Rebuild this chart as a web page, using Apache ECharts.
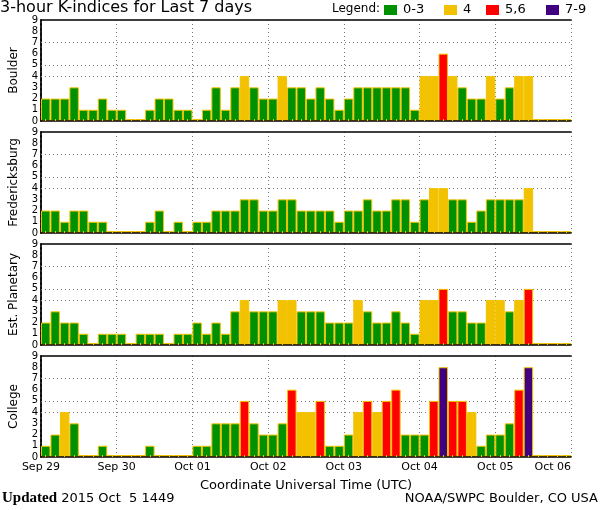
<!DOCTYPE html>
<html><head><meta charset="utf-8">
<script src="https://cdn.jsdelivr.net/npm/echarts@6/dist/echarts.min.js"></script>
<style>html,body{margin:0;padding:0;background:#fff;}#c{width:600px;height:510px;}</style>
</head><body><div id="c"></div>
<script>
const titleText = '3-hour K-indices for Last 7 days';
const stations = ['Boulder', 'Fredericksburg', 'Est. Planetary', 'College'];
const dayLabels = ['Sep 29', 'Sep 30', 'Oct 01', 'Oct 02', 'Oct 03', 'Oct 04', 'Oct 05', 'Oct 06'];
const slotHours = ['00', '03', '06', '09', '12', '15', '18', '21'];

const boulder = [2,2,2,3,1,1,2,1, 1,0,0,1,2,2,1,1, 0,1,3,1,3,4,3,2, 2,4,3,3,2,3,2,1,
                 2,3,3,3,3,3,3,1, 4,4,6,4,3,2,2,4, 2,3,4,4,0,0,0,0];
const fredericksburg = [2,2,1,2,2,1,1,0, 0,0,0,1,2,0,1,0, 1,1,2,2,2,3,3,2, 2,3,3,2,2,2,2,1,
                 2,2,3,2,2,3,3,1, 3,4,4,3,3,1,2,3, 3,3,3,4,0,0,0,0];
const estPlanetary = [2,3,2,2,1,0,1,1, 1,0,1,1,1,0,1,1, 2,1,2,1,3,4,3,3, 3,4,4,3,3,3,2,2,
                 2,4,3,2,2,3,2,1, 4,4,5,3,3,2,2,4, 4,3,4,5,0,0,0,0];
const college = [1,2,4,3,0,0,1,0, 0,0,0,1,0,0,0,0, 1,1,3,3,3,5,3,2, 2,3,6,4,4,5,1,1,
                 2,4,5,4,5,6,2,2, 2,5,8,5,5,4,1,2, 2,3,6,8,0,0,0,0];

const legendLabels = ['0-3', '4', '5,6', '7-9'];
const legendColors = ['#009100', '#f2c200', '#ff0000', '#400080'];
const gridLevels = [4, 5, 7];
const xAxisTitle = 'Coordinate Universal Time (UTC)';
const footerLeft = '2015 Oct  5 1449';
const footerRight = 'NOAA/SWPC Boulder, CO USA';

const stationData = [boulder, fredericksburg, estPlanetary, college];
const slots = [];
dayLabels.slice(0, 7).forEach(d => slotHours.forEach(h => slots.push(d + ' ' + h)));

function kClass(k) { return k <= 3 ? 0 : (k === 4 ? 1 : (k <= 6 ? 2 : 3)); }

const tops = [20, 132, 244, 356];
const H = 101, L = 36, W = 535;
const nDays = 7, perDay = 8;
const FONT = 'DejaVu Sans';

const grid = [], xAxis = [], yAxis = [], series = [];
stations.forEach((name, i) => {
  const last = i === stations.length - 1;
  grid.push({ left: L, top: tops[i], width: W, height: H, containLabel: false });
  xAxis.push({
    type: 'category', gridIndex: i, data: slots, position: 'bottom', z: 3,
    axisLine: { show: true, lineStyle: { color: '#000', width: 1.5 } },
    axisTick: { show: true, inside: true, alignWithLabel: true, interval: 0, length: 2,
                lineStyle: { color: '#f2c200', width: 1 } },
    axisLabel: { show: false, interval: 0 },
    splitLine: { show: false }
  });
  xAxis.push({
    type: 'value', gridIndex: i, min: 0, max: nDays * perDay, interval: perDay, position: 'bottom',
    axisLine: { show: false }, axisTick: { show: false },
    splitLine: { show: true, lineStyle: { color: '#777', type: [1, 3], width: 1 } },
    axisLabel: { show: last, color: '#000', fontFamily: FONT, fontSize: 11, margin: 5,
                 alignMaxLabel: 'right',
                 formatter: v => dayLabels[Math.round(v / perDay)] },
    name: last ? xAxisTitle : '', nameLocation: 'middle', nameGap: 22,
    nameTextStyle: { color: '#000', fontFamily: FONT, fontSize: 13 }
  });
  xAxis.push({
    type: 'value', gridIndex: i, min: 0, max: nDays * perDay, position: 'top',
    axisLine: { show: true, lineStyle: { color: '#000', width: 1.5 } },
    axisTick: { show: false }, axisLabel: { show: false }, splitLine: { show: false }
  });
  yAxis.push({
    type: 'value', gridIndex: i, min: 0, max: 9, interval: 1, position: 'left',
    axisLine: { show: true, lineStyle: { color: '#000', width: 1.5 } },
    axisTick: { show: false }, splitLine: { show: false },
    axisLabel: { color: '#000', fontFamily: FONT, fontSize: 10, margin: 3 },
    name: name, nameLocation: 'middle', nameRotate: 90, nameGap: 21,
    nameTextStyle: { color: '#000', fontFamily: FONT, fontSize: 12 }
  });
  yAxis.push({
    type: 'value', gridIndex: i, min: 0, max: 9, position: 'right',
    axisLine: { show: true, lineStyle: { color: '#000', width: 1.5, type: [3, 2] } },
    axisTick: { show: false }, axisLabel: { show: false }, splitLine: { show: false }
  });
  series.push({
    type: 'bar', name: name, xAxisIndex: 3 * i, yAxisIndex: 2 * i,
    data: stationData[i], barCategoryGap: '0%', barMinHeight: 2, z: 2,
    itemStyle: {
      color: p => legendColors[kClass(p.value)],
      borderColor: '#f2c200', borderWidth: 1
    },
    animation: false,
    markLine: {
      silent: true, symbol: 'none', z: 1, animation: false,
      label: { show: false },
      lineStyle: { color: '#777', type: [1, 3], width: 1 },
      data: gridLevels.map(v => ({ yAxis: v }))
    }
  });
});

const graphic = [
  { type: 'text', left: 0, top: 0, style: { text: titleText, fill: '#000', font: '16px "' + FONT + '"' } },
  { type: 'text', left: 332, top: 3, style: { text: 'Legend:', fill: '#000', font: '12px "' + FONT + '"' } },
  { type: 'text', left: 2, top: 491, style: {
      text: '{b|Updated} ' + footerLeft, fill: '#000', font: '13px "' + FONT + '"',
      rich: { b: { fontFamily: 'Liberation Serif', fontWeight: 'bold', fontSize: 15, fill: '#000' } } } },
  { type: 'text', right: 2, top: 492, style: { text: footerRight, fill: '#000', font: '13px "' + FONT + '"' } }
];
const legendX = [384, 444, 486, 546];
legendLabels.forEach((lab, j) => {
  graphic.push({ type: 'rect', shape: { x: legendX[j], y: 5, width: 13, height: 10 }, style: { fill: legendColors[j] } });
  graphic.push({ type: 'text', left: legendX[j] + 19, top: 3, style: { text: lab, fill: '#000', font: '13px "' + FONT + '"' } });
});

const chart = echarts.init(document.getElementById('c'), null, { renderer: 'canvas' });
chart.setOption({ animation: false, backgroundColor: '#fff', grid, xAxis, yAxis, series, graphic });
</script></body></html>
